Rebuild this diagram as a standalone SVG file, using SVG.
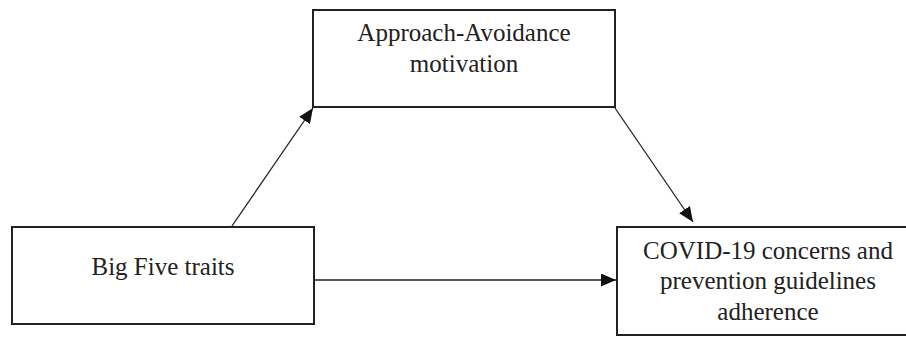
<svg xmlns="http://www.w3.org/2000/svg" width="906" height="337" viewBox="0 0 906 337">
<defs>
<style>
.box{fill:#fff;stroke:#222;stroke-width:2}
.lbl{font-family:"Liberation Serif","Times New Roman",serif;font-size:25px;fill:#222;text-anchor:middle}
.edge{stroke:#222;stroke-width:1.3;fill:none}
</style>
<marker id="ah" markerUnits="userSpaceOnUse" markerWidth="16" markerHeight="14" refX="15" refY="6.5" orient="auto">
<path d="M0,0 L15,6.5 L0,13 Z" fill="#111"/>
</marker>
</defs>
<rect width="906" height="337" fill="#fff"/>
<g id="connectors">
<line class="edge" x1="232" y1="226" x2="313" y2="108" marker-end="url(#ah)"/>
<line class="edge" x1="615" y1="108" x2="693" y2="222" marker-end="url(#ah)"/>
<line class="edge" x1="315" y1="280" x2="616" y2="280" marker-end="url(#ah)"/>
</g>
<g id="approach">
<rect class="box" x="313" y="10" width="302" height="97"/>
<text class="lbl" x="464" y="41">Approach-Avoidance</text>
<text class="lbl" x="464" y="72">motivation</text>
</g>
<g id="bigfive">
<rect class="box" x="12" y="227" width="302" height="97"/>
<text class="lbl" x="163" y="275">Big Five traits</text>
</g>
<g id="covid">
<rect class="box" x="617" y="227" width="303" height="108"/>
<text class="lbl" x="768" y="259">COVID-19 concerns and</text>
<text class="lbl" x="768" y="289">prevention guidelines</text>
<text class="lbl" x="768" y="320">adherence</text>
</g>
</svg>
